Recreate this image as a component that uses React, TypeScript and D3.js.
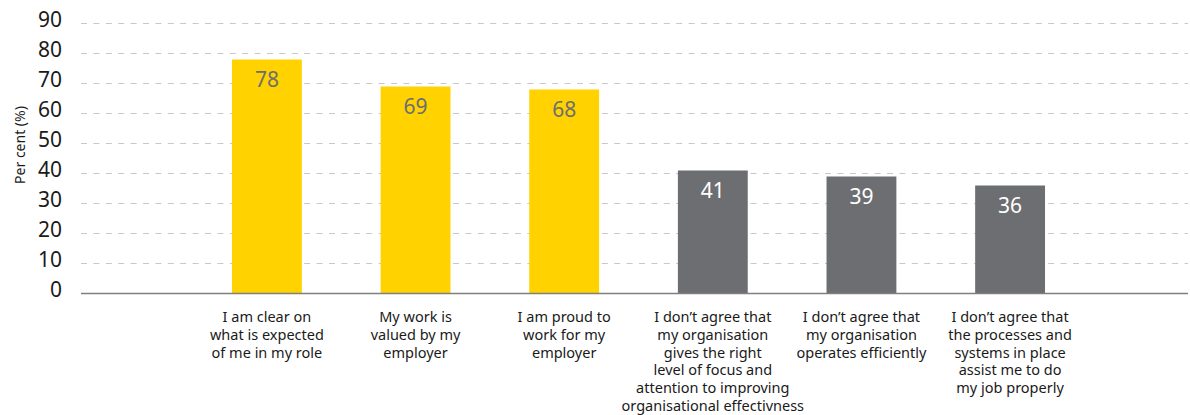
import React from "react";
import * as d3 from "d3";

const categories = [
  "I am clear on what is expected of me in my role",
  "My work is valued by my employer",
  "I am proud to work for my employer",
  "I don't agree that my organisation gives the right level of focus and attention to improving organisational effectivness",
  "I don't agree that my organisation operates efficiently",
  "I don't agree that the processes and systems in place assist me to do my job properly",
];
const categoryLines = [
  ["I am clear on", "what is expected", "of me in my role"],
  ["My work is", "valued by my", "employer"],
  ["I am proud to", "work for my", "employer"],
  ["I don\u2019t agree that", "my organisation", "gives the right", "level of focus and", "attention to improving", "organisational effectivness"],
  ["I don\u2019t agree that", "my organisation", "operates efficiently"],
  ["I don\u2019t agree that", "the processes and", "systems in place", "assist me to do", "my job properly"],
];
const values = [78, 69, 68, 41, 39, 36];
const groups = ["agree", "agree", "agree", "disagree", "disagree", "disagree"];
const yTicks = [0, 10, 20, 30, 40, 50, 60, 70, 80, 90];
const yTitle = "Per cent (%)";

const W = 1190;
const H = 415;
const FONT = "'Noto Sans', sans-serif";

export default function App() {
  const x = d3
    .scaleBand<string>()
    .domain(categories)
    .range([192.6, 1084.4])
    .paddingInner(0.53)
    .paddingOuter(0.265);
  const y = d3.scaleLinear().domain([0, 90]).range([293.5, 23.5]);
  const color = (g: string) => (g === "agree" ? "#FFD200" : "#6D6E71");
  const labelColor = (g: string) => (g === "agree" ? "#6D6E71" : "#FFFFFF");
  const gridX0 = 81;
  const gridX1 = 1188;

  return (
    <svg
      width={W}
      height={H}
      style={{ position: "absolute", left: 0, top: 0, background: "#fff" }}
      fontFamily={FONT}
    >
      {yTicks.map((t) =>
        t === 0 ? null : (
          <line
            key={"g" + t}
            x1={gridX0}
            x2={gridX1}
            y1={y(t)}
            y2={y(t)}
            stroke="#C8C8C8"
            strokeWidth={1}
            strokeDasharray="6,6.4"
          />
        )
      )}
      {yTicks.map((t) => (
        <text
          key={"t" + t}
          x={62}
          y={y(t) + 3}
          textAnchor="end"
          fontSize={21}
          fill="#1a1a1a"
        >
          {t}
        </text>
      ))}
      <text
        transform={`translate(25,145) rotate(-90)`}
        textAnchor="middle"
        fontSize={14}
        fill="#1a1a1a"
      >
        {yTitle}
      </text>
      {categories.map((c, i) => (
        <g key={c}>
          <rect
            x={x(c)!}
            y={y(values[i])}
            width={x.bandwidth()}
            height={y(0) - y(values[i])}
            fill={color(groups[i])}
          />
          <text
            x={x(c)! + x.bandwidth() / 2}
            y={y(values[i]) + 27}
            textAnchor="middle"
            fontSize={21}
            fill={labelColor(groups[i])}
          >
            {values[i]}
          </text>
        </g>
      ))}
      <line
        x1={gridX0}
        x2={gridX1}
        y1={y(0)}
        y2={y(0)}
        stroke="#7F7F7F"
        strokeWidth={1.5}
      />
      {categories.map((c, i) => (
        <text
          key={"l" + c}
          x={x(c)! + x.bandwidth() / 2}
          textAnchor="middle"
          fontSize={14.5}
          fill="#1a1a1a"
        >
          {categoryLines[i].map((ln, k) => (
            <tspan key={k} x={x(c)! + x.bandwidth() / 2} y={322 + k * 17.8}>
              {ln}
            </tspan>
          ))}
        </text>
      ))}
    </svg>
  );
}
